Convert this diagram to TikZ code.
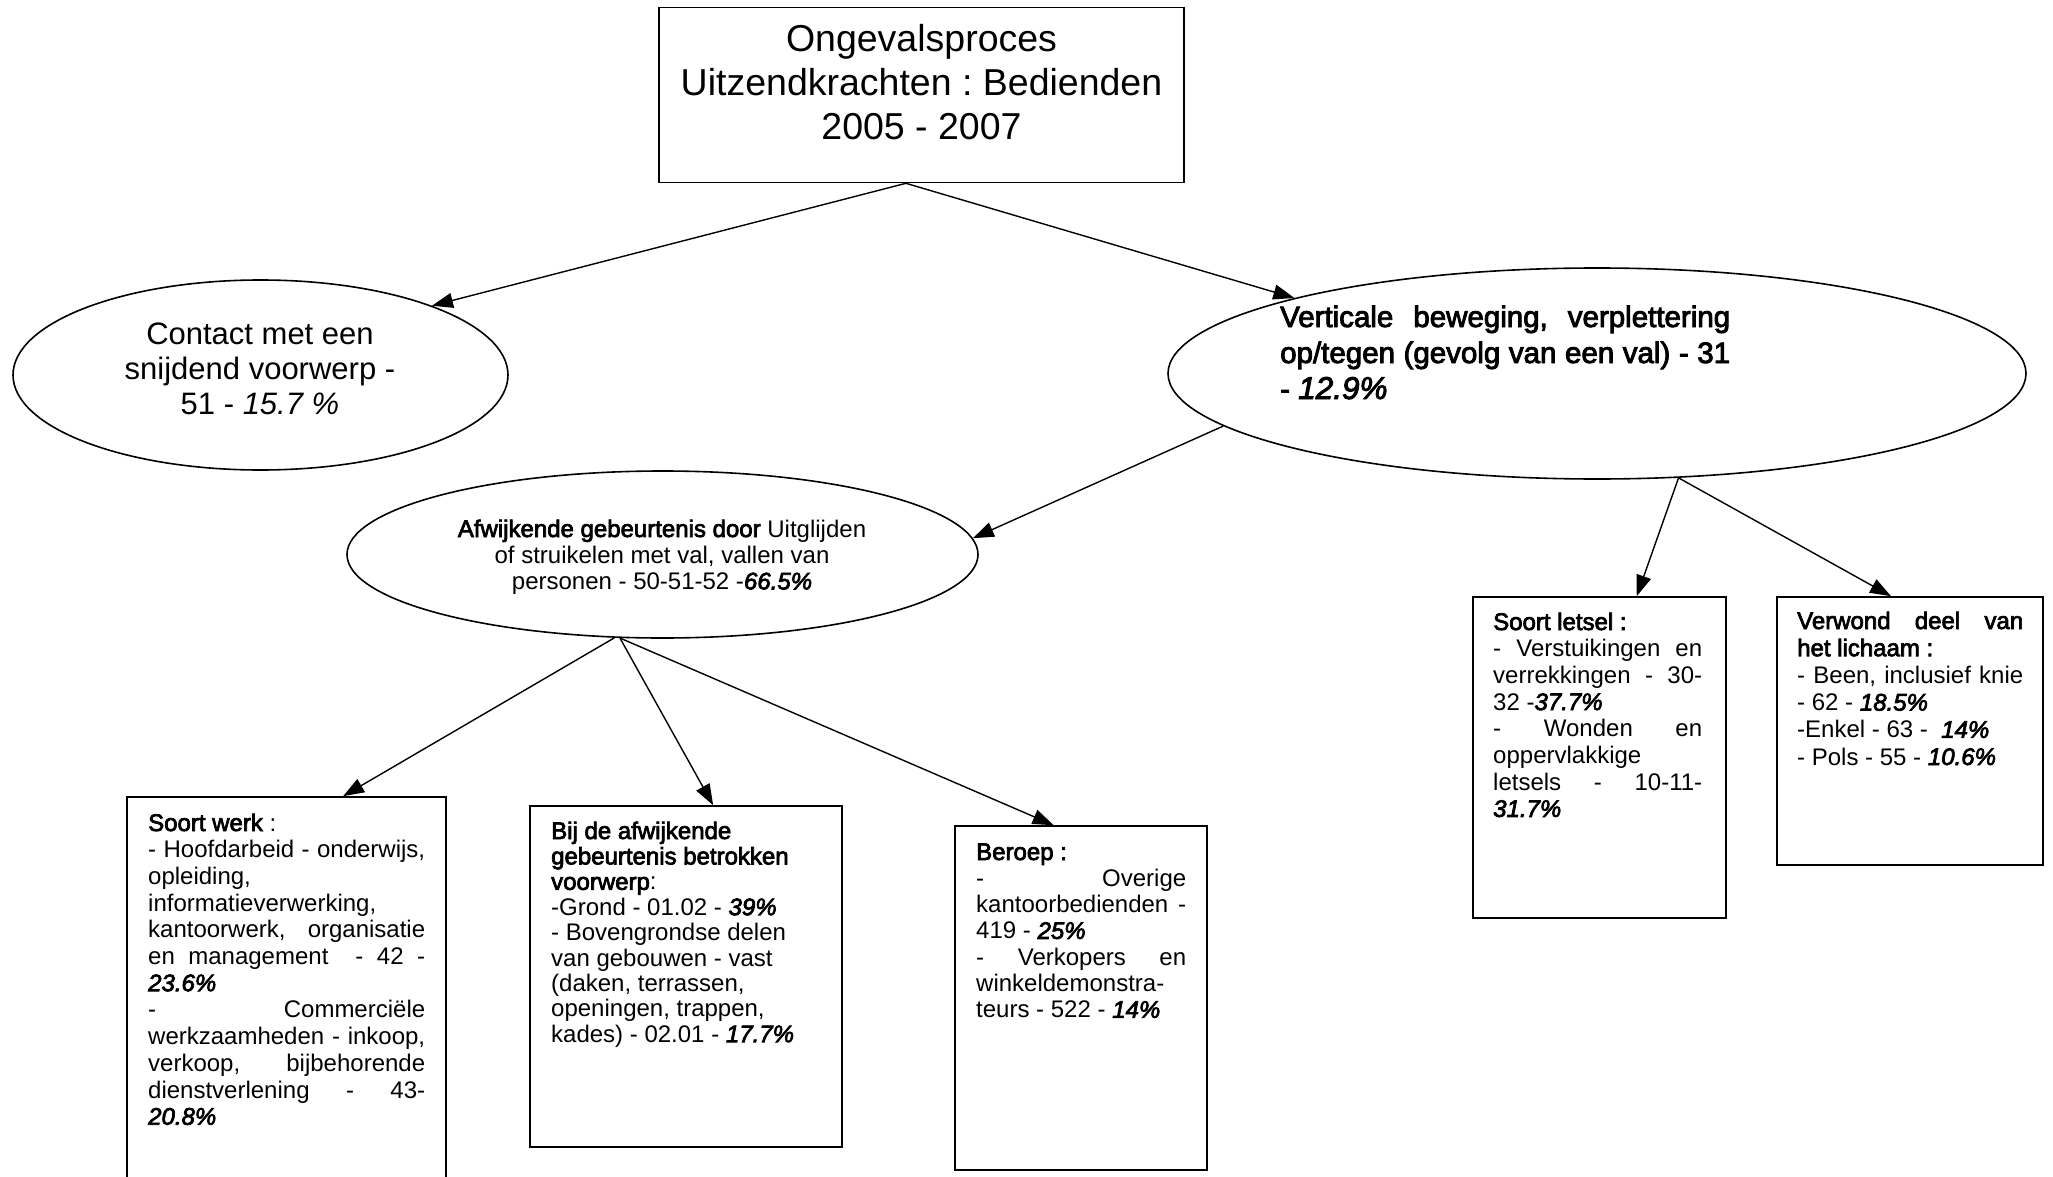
\documentclass[tikz,border=0pt]{standalone}
\usepackage{fontspec}
\setmainfont{Liberation Sans}
\newfontfamily\FB{Liberation Sans}[FakeBold=3]
\newcommand\FBI{\FB\itshape}
\newcommand\J[1]{\makebox[\hsize][s]{#1}}
\usetikzlibrary{arrows.meta,shapes.geometric}
\frenchspacing
\tikzset{
  rbox/.style={draw, line width=1.6pt, rectangle, inner sep=0pt},
  ell/.style={draw, line width=1.6pt, ellipse, inner sep=0pt},
  arr/.style={line width=1.4pt, -{Triangle[length=21pt,width=15pt]}},
  txt/.style={inner sep=0pt}
}
\begin{document}
\begin{tikzpicture}[x=1pt,y=-1pt]
\fill[white] (0,0) rectangle (2053,1177);
\useasboundingbox (0,0) rectangle (2053,1177);

% title
\node[rbox, minimum width=525pt, minimum height=175pt] (title) at (921.5,95) {};
\node[txt, anchor=base] (tt) at (921.5,52) {\parbox[t]{520pt}{\centering\fontsize{37.5}{44}\selectfont
  Ongevalsproces\\Uitzendkrachten : Bedienden\\2005 - 2007}};

% ellipses
\node[ell, minimum width=495pt, minimum height=190pt] (e1) at (260.5,375) {};
\node[txt, anchor=base] (t1) at (260,344) {\parbox[t]{440pt}{\centering\fontsize{31}{35}\selectfont
  Contact met een\\ snijdend voorwerp -\\ 51 - \textit{15.7 \%}}};

\node[ell, minimum width=858pt, minimum height=211pt] (e2) at (1597,373.5) {};
\node[txt, anchor=base west] (t2) at (1280,327) {\parbox[t]{450pt}{\fontsize{29.5}{36}\selectfont\FB
  \J{Verticale beweging, verplettering}\\
  \J{op/tegen (gevolg van een val) - 31}\\
  - {\fontsize{31.5}{36}\selectfont\itshape 12.9\%}}};

\node[ell, minimum width=631pt, minimum height=167pt] (e3) at (662.5,554.5) {};
\node[txt, anchor=base] (t3) at (662,537) {\parbox[t]{520pt}{\centering\fontsize{24}{26.2}\selectfont
  {\FB Afwijkende gebeurtenis door} Uitglijden\\
  of struikelen met val, vallen van\\
  personen - 50-51-52 -{\FBI 66.5\%}}};

% boxes
\node[rbox, minimum width=319pt, minimum height=393pt] (sw) at (286.5,993.5) {};
\node[txt, anchor=base west] (tsw) at (148,831) {\parbox[t]{277pt}{\fontsize{24}{26.7}\selectfont
  {\FB Soort werk} :\\
  \J{- Hoofdarbeid - onderwijs,}\\
  opleiding,\\
  informatieverwerking,\\
  \J{kantoorwerk, organisatie}\\
  \J{en management \ - 42 -}\\
  {\FBI 23.6\%}\\
  \J{- Commerciële}\\
  \J{werkzaamheden - inkoop,}\\
  \J{verkoop, bijbehorende}\\
  \J{dienstverlening - 43-}\\
  {\FBI 20.8\%}}};

\node[rbox, minimum width=312pt, minimum height=341pt] (bij) at (686,976.5) {};
\node[txt, anchor=base west] (tbij) at (551,839) {\parbox[t]{270pt}{\fontsize{24}{25.4}\selectfont
  {\FB Bij de afwijkende}\\
  {\FB gebeurtenis betrokken}\\
  {\FB voorwerp}:\\
  -Grond - 01.02 - {\FBI 39\%}\\
  - Bovengrondse delen\\
  van gebouwen - vast\\
  (daken, terrassen,\\
  openingen, trappen,\\
  kades) - 02.01 - {\FBI 17.7\%}}};

\node[rbox, minimum width=252pt, minimum height=344pt] (ber) at (1081,998) {};
\node[txt, anchor=base west] (tber) at (976,860) {\parbox[t]{210pt}{\fontsize{24}{26.3}\selectfont
  {\FB Beroep :}\\
  \J{- Overige}\\
  \J{kantoorbedienden -}\\
  419 - {\FBI 25\%}\\
  \J{- Verkopers en}\\
  winkeldemonstra-\\
  teurs - 522 - {\FBI 14\%}}};

\node[rbox, minimum width=253pt, minimum height=321pt] (let) at (1599.5,757.5) {};
\node[txt, anchor=base west] (tlet) at (1493,630) {\parbox[t]{209pt}{\fontsize{24}{26.7}\selectfont
  {\FB Soort letsel :}\\
  \J{- Verstuikingen en}\\
  \J{verrekkingen - 30-}\\
  32 -{\FBI 37.7\%}\\
  \J{- Wonden en}\\
  oppervlakkige\\
  \J{letsels - 10-11-}\\
  {\FBI 31.7\%}}};

\node[rbox, minimum width=266pt, minimum height=268pt] (vw) at (1910,731) {};
\node[txt, anchor=base west] (tvw) at (1797,629) {\parbox[t]{226pt}{\fontsize{24}{27.2}\selectfont
  \J{\FB Verwond deel van}\\
  {\FB het lichaam :}\\
  \J{- Been, inclusief knie}\\
  - 62 - {\FBI 18.5\%}\\
  -Enkel - 63 - \ {\FBI 14\%}\\
  - Pols - 55 - {\FBI 10.6\%}}};

% connectors
\draw[arr] (title.260.5) -- (e1.22);
\draw[arr] (title.260.5) -- (e2.166);
\draw[arr] (e2.188.5) -- (e3.3.3);
\draw[arr] (e2.-52) -- (let.77.4);
\draw[arr] (e2.-52) -- (vw.98.5);
\draw[arr] (e3.240) -- (sw.74.8);
\draw[arr] (e3.243) -- (bij.81.3);
\draw[arr] (e3.243) -- (ber.99);
\end{tikzpicture}
\end{document}
